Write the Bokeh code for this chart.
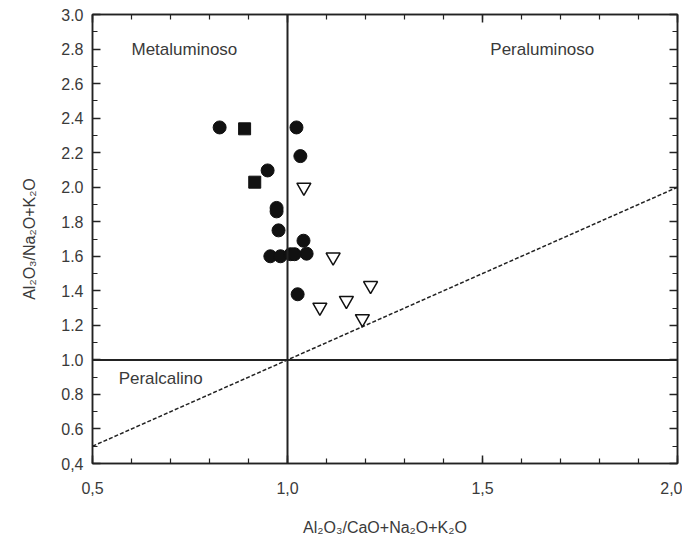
from bokeh.plotting import figure
from bokeh.models import Span, LinearAxis, FixedTicker, Label, CustomLabelingPolicy
from bokeh.embed import file_html
from bokeh.resources import INLINE

# Data
circle_x = [0.826, 1.023, 1.033, 0.949, 0.972, 0.972, 0.977, 1.041, 1.049, 0.956, 0.982, 1.008, 1.018, 1.026]
circle_y = [2.346, 2.346, 2.180, 2.097, 1.880, 1.860, 1.750, 1.690, 1.615, 1.600, 1.600, 1.612, 1.612, 1.380]
square_x = [0.890, 0.916]
square_y = [2.338, 2.029]
tri_x = [1.042, 1.117, 1.213, 1.083, 1.151, 1.192]
tri_y = [2.000, 1.595, 1.430, 1.305, 1.344, 1.238]
line_x = [0.5, 2.0]
line_y = [0.5, 2.0]

x_ticks = [0.5, 1.0, 1.5, 2.0]
x_tick_labels = ["0,5", "1,0", "1,5", "2,0"]
y_ticks = [0.4, 0.6, 0.8, 1.0, 1.2, 1.4, 1.6, 1.8, 2.0, 2.2, 2.4, 2.6, 2.8, 3.0]
y_tick_labels = ["0,4", "0.6", "0.8", "1.0", "1.2", "1.4", "1.6", "1.8", "2.0", "2.2", "2.4", "2.6", "2.8", "3.0"]
x_minor = [round(0.5 + 0.1 * i, 2) for i in range(16)]
y_minor = [round(0.4 + 0.1 * i, 2) for i in range(27)]

FONT = "Liberation Sans"
TXT = "#3a3a3a"

p = figure(width=682, height=540, x_range=(0.5, 2.0), y_range=(0.4, 3.0),
           output_backend="svg", toolbar_location=None,
           min_border_left=92, min_border_top=14, min_border_right=5, min_border_bottom=77,
           x_axis_label="Al₂O₃/CaO+Na₂O+K₂O", y_axis_label="Al₂O₃/Na₂O+K₂O")
p.grid.visible = False
p.outline_line_color = "#222222"
p.outline_line_width = 1.5
p.background_fill_color = "white"
p.border_fill_color = "white"

no_labels = CustomLabelingPolicy(code="""
for (let i = 0; i < indices.size; i++) { indices.unset(i) }
return indices
""")

def style_axis(ax, ticks, minor, labels=None):
    ax.ticker = FixedTicker(ticks=ticks, minor_ticks=minor)
    ax.major_tick_in = 8
    ax.major_tick_out = 0
    ax.minor_tick_in = 5
    ax.minor_tick_out = 0
    ax.axis_line_color = "#222222"
    ax.axis_line_width = 1.5
    ax.major_tick_line_color = "#222222"
    ax.major_tick_line_width = 1.5
    ax.minor_tick_line_color = "#222222"
    ax.minor_tick_line_width = 1.2
    ax.major_label_text_font = FONT
    ax.major_label_text_font_size = "16px"
    ax.major_label_text_color = TXT
    ax.axis_label_text_font = FONT
    ax.axis_label_text_font_size = "16px"
    ax.axis_label_text_font_style = "normal"
    ax.axis_label_text_color = TXT
    if labels is not None:
        ax.major_label_overrides = dict(zip(ticks, labels))
    else:
        ax.major_label_policy = no_labels
        ax.major_label_text_font_size = "1px"
        ax.major_label_standoff = 0
        ax.axis_label_standoff = 0

style_axis(p.xaxis[0], x_ticks, x_minor, x_tick_labels)
p.xaxis[0].major_label_standoff = 18
p.xaxis[0].axis_label_standoff = 22
style_axis(p.yaxis[0], y_ticks, y_minor, y_tick_labels)
p.yaxis[0].major_label_standoff = 9
p.yaxis[0].axis_label_standoff = 20

top = LinearAxis()
style_axis(top, x_ticks, x_minor)
p.add_layout(top, "above")
right = LinearAxis()
style_axis(right, y_ticks, y_minor)
p.add_layout(right, "right")

p.add_layout(Span(location=1.0, dimension="height", line_color="#222222", line_width=2))
p.add_layout(Span(location=1.0, dimension="width", line_color="#222222", line_width=2))
p.line(line_x, line_y, line_color="#222222", line_width=1.5, line_dash="4 2")

p.scatter(circle_x, circle_y, marker="circle", size=13, fill_color="#111111", line_color="#111111")
p.scatter(square_x, square_y, marker="square", size=12, fill_color="#111111", line_color="#111111")
p.scatter(tri_x, tri_y, marker="inverted_triangle", size=14, fill_color="white",
          line_color="#111111", line_width=1.5)

for txt, x, y in [("Metaluminoso", 0.6, 2.8), ("Peraluminoso", 1.52, 2.8), ("Peralcalino", 0.567, 0.89)]:
    p.add_layout(Label(x=x, y=y, text=txt, text_font=FONT, text_font_size="17px",
                       text_color=TXT, text_baseline="middle", text_align="left"))

open("out.html", "w").write(file_html(p, INLINE))
